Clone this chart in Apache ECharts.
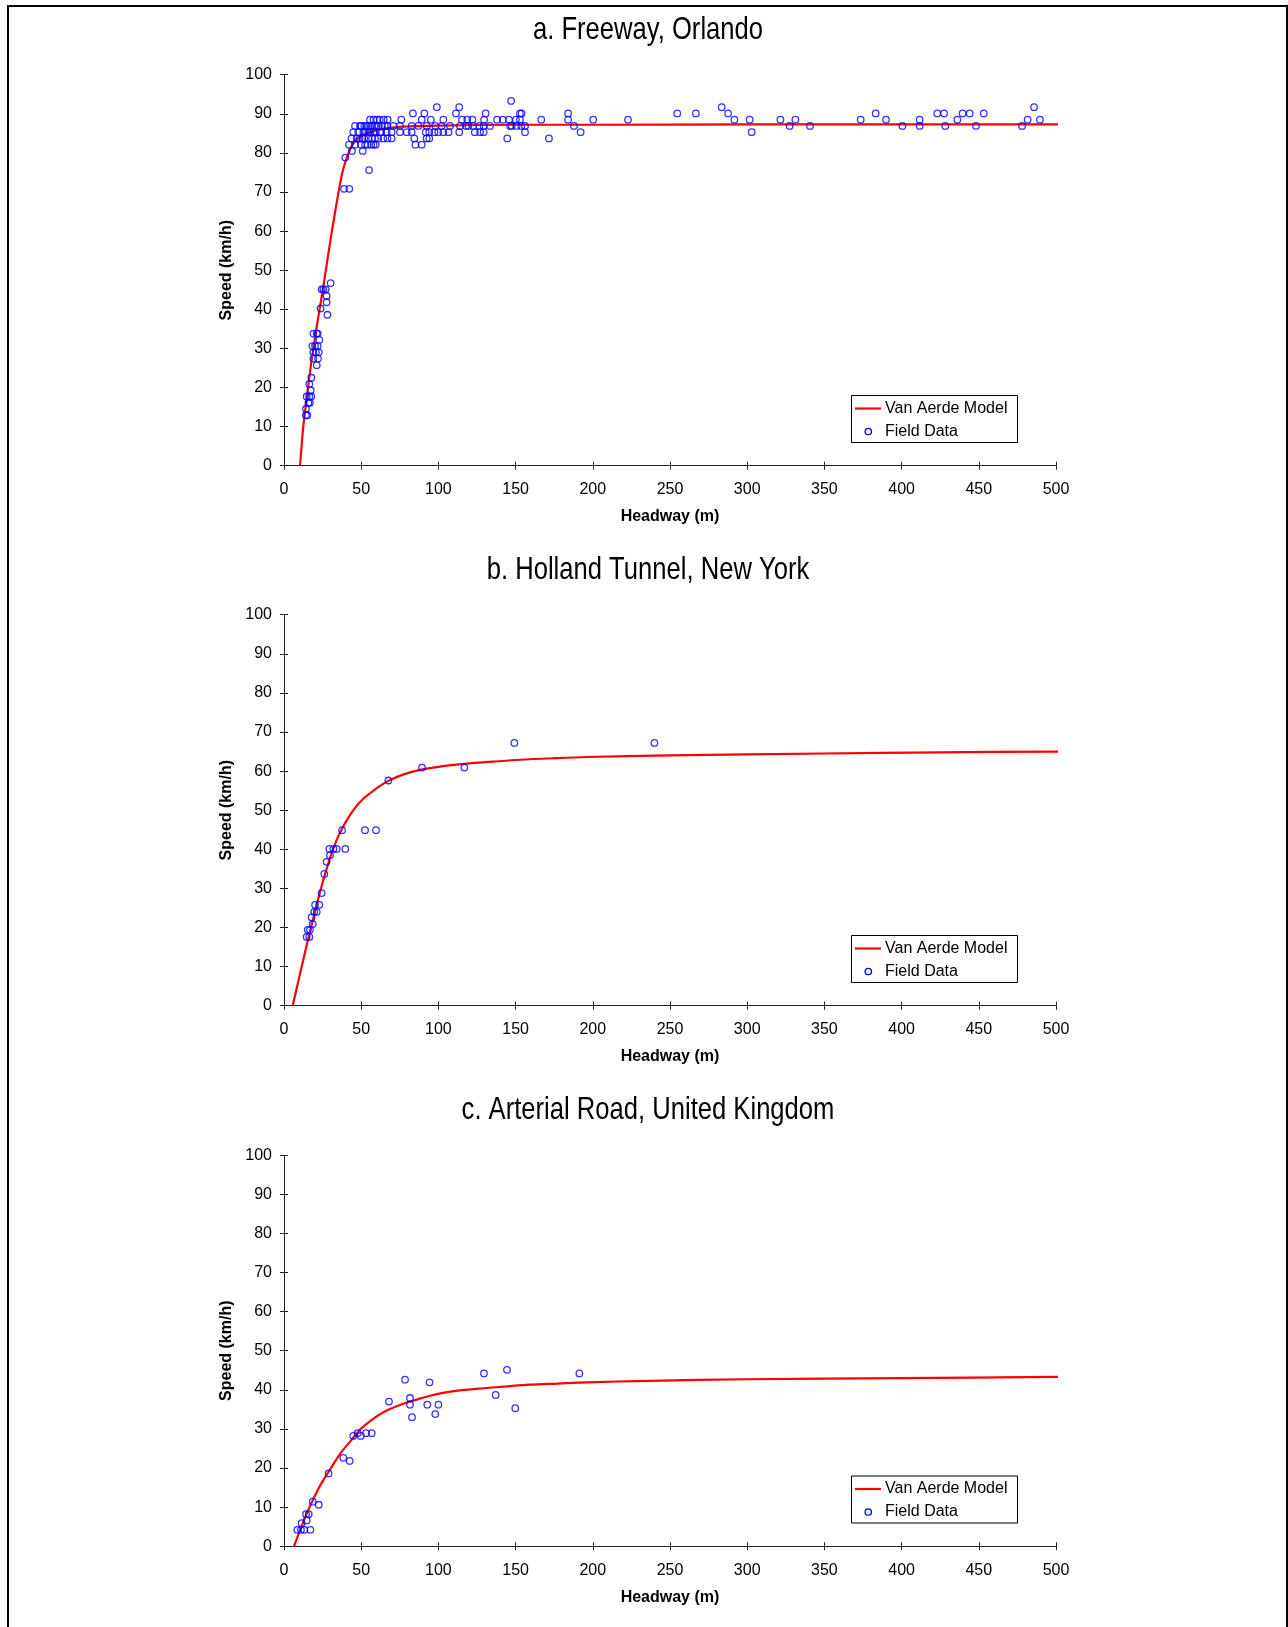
<!DOCTYPE html>
<html><head><meta charset="utf-8">
<script src="https://cdn.jsdelivr.net/npm/echarts@6/dist/echarts.min.js"></script>
<style>html,body{margin:0;padding:0;background:#fff}#c{width:1288px;height:1627px}</style>
</head><body><div id="c"></div>
<script>
// ---------- DATA ----------
const panelTitles = ['a. Freeway, Orlando', 'b. Holland Tunnel, New York', 'c. Arterial Road, United Kingdom'];
const xAxisName = 'Headway (m)';
const yAxisName = 'Speed (km/h)';
const modelName = 'Van Aerde Model';
const fieldName = 'Field Data';
const xTicks = [0, 50, 100, 150, 200, 250, 300, 350, 400, 450, 500];
const yTicks = [0, 10, 20, 30, 40, 50, 60, 70, 80, 90, 100];

// Panel a: Freeway, Orlando  [headway m, speed km/h]
const modelA = [[10.4,0],[12.5,10.0],[15.1,18.5],[17.9,27.0],[21.2,35.6],[24.8,44.1],[28.1,52.6],[31.5,61.1],[35.2,69.7],[37.5,74.5],[40.2,78.2],[42.5,80.6],[44.9,82.4],[48.5,83.9],[53.5,85.0],[60,85.8],[65,86.2],[77,86.7],[100,87.0],[150,87.2],[200,87.2],[300,87.3],[400,87.3],[503,87.3]];
const fieldA = [
[14.2,12.9],[15.1,12.9],[14.2,14.5],[15.8,16.1],[16.8,16.1],[14.7,17.7],[16.4,17.7],[17.7,17.7],[17.3,19.3],[16.4,20.9],[17.7,22.5],
[21.2,25.7],[19.0,27.4],[22.0,27.4],[19.0,29.0],[20.7,29.0],[22.5,29.0],[18.4,30.6],[20.1,30.6],[21.8,30.6],[22.9,32.2],[19.0,33.8],[21.2,33.8],[21.8,33.8],
[28.1,38.6],[23.7,40.2],[27.6,41.8],[27.6,43.4],[24.4,45.1],[25.5,45.1],[27.0,45.1],[30.2,46.7],
[38.9,70.8],[42.3,70.8],[55.1,75.6],[39.7,78.8],[44.0,80.5],[51.0,80.5],
[42.1,82.1],[46.0,82.1],[49.9,82.1],[52.5,82.1],[54.2,82.1],[56.5,82.1],[58.0,82.1],[59.4,82.1],[85.1,82.1],[89.2,82.1],
[43.8,83.7],[47.1,83.7],[49.0,83.7],[50.7,83.7],[52.0,83.7],[54.6,83.7],[57.0,83.7],[58.9,83.7],[61.0,83.7],[64.3,83.7],[67.0,83.7],[69.7,83.7],[84.4,83.7],[92.4,83.7],[94.1,83.7],[144.6,83.7],[171.6,83.7],
[44.9,85.3],[48.1,85.3],[51.4,85.3],[53.0,85.3],[54.6,85.3],[56.0,85.3],[57.9,85.3],[59.5,85.3],[62.2,85.3],[63.0,85.3],[66.5,85.3],[69.7,85.3],[75.1,85.3],[79.5,85.3],[82.7,85.3],[91.8,85.3],[94.1,85.3],[97.4,85.3],[99.9,85.3],[103.2,85.3],[106.6,85.3],[113.5,85.3],[123.6,85.3],[127.0,85.3],[129.3,85.3],[156.1,85.3],[192.1,85.3],[302.9,85.3],
[46.0,86.9],[49.2,86.9],[50.0,86.9],[52.0,86.9],[53.5,86.9],[55.0,86.9],[56.8,86.9],[58.5,86.9],[60.0,86.9],[61.1,86.9],[63.5,86.9],[65.4,86.9],[67.0,86.9],[70.8,86.9],[75.1,86.9],[82.7,86.9],[87.0,86.9],[92.4,86.9],[98.0,86.9],[102.1,86.9],[107.5,86.9],[114.0,86.9],[117.9,86.9],[119.4,86.9],[122.6,86.9],[126.5,86.9],[129.3,86.9],[133.4,86.9],[146.4,86.9],[147.5,86.9],[150.7,86.9],[153.7,86.9],[156.1,86.9],
[187.8,86.9],[327.5,86.9],[340.7,86.9],[400.5,86.9],[411.7,86.9],[428.3,86.9],[448.2,86.9],[478.0,86.9],
[55.7,88.5],[58.0,88.5],[60.2,88.5],[62.0,88.5],[64.6,88.5],[67.1,88.5],[76.0,88.5],[89.2,88.5],[95.1,88.5],[103.2,88.5],[115.3,88.5],[118.7,88.5],[122.0,88.5],[129.6,88.5],[138.0,88.5],[141.7,88.5],[145.7,88.5],[150.2,88.5],[152.8,88.5],[166.6,88.5],[184.0,88.5],[200.3,88.5],[222.8,88.5],[291.7,88.5],[301.6,88.5],[321.5,88.5],[331.2,88.5],[373.5,88.5],[389.9,88.5],[411.7,88.5],[436.1,88.5],[481.6,88.5],[489.6,88.5],
[83.5,90.1],[90.9,90.1],[111.4,90.1],[130.6,90.1],[152.8,90.1],[153.9,90.1],[184.0,90.1],[254.7,90.1],[266.8,90.1],[287.6,90.1],[383.2,90.1],[423.1,90.1],[427.5,90.1],[439.5,90.1],[444.1,90.1],[453.2,90.1],
[99.0,91.7],[113.5,91.7],[283.5,91.7],[485.8,91.7],
[147.1,93.3]
];

// Panel b: Holland Tunnel, New York
const modelB = [[5.6,0],[10,7.5],[15,16.0],[20,24.0],[25,31.5],[30,38.0],[34,42.3],[38,45.6],[42,48.3],[46,50.6],[51,52.8],[56,54.4],[61,55.9],[67.6,57.5],[77,59.1],[88,60.3],[100,61.1],[118.3,61.9],[135,62.4],[152.8,62.9],[175,63.3],[196,63.6],[250,64.0],[350,64.5],[425,64.8],[503,65.0]];
const fieldB = [[14.7,17.6],[16.4,17.6],[15.4,19.4],[16.8,19.4],[18.6,20.9],[17.9,22.6],[19.6,24.0],[20.1,25.8],[21.2,24.0],[22.9,25.8],[24.4,28.8],[26.1,33.7],[27.6,36.8],[29.4,40.1],[29.8,38.5],[32.0,40.1],[34.1,40.1],[37.6,44.9],[39.7,40.1],[52.5,44.9],[59.6,44.9],[67.6,57.6],[89.4,60.9],[116.8,60.9],[149.2,67.2],[239.9,67.2]];

// Panel c: Arterial Road, United Kingdom
const modelC = [[6.5,0],[11.5,5.2],[16.8,10.2],[23.5,15.6],[30.9,20.3],[37,24.0],[43.8,27.2],[50.3,30.2],[60,33.2],[66,34.6],[73,35.8],[80,36.8],[86,37.5],[94,38.4],[103,39.2],[115,39.9],[129,40.4],[145,40.9],[159,41.3],[177,41.6],[196,41.9],[237,42.3],[300,42.7],[400,43.0],[503,43.3]];
const fieldC = [[8.6,4.2],[11.0,4.2],[13.2,4.2],[17.1,4.2],[11.4,5.9],[14.7,6.6],[14.3,8.2],[16.0,8.2],[18.6,11.4],[22.5,10.6],[28.9,18.6],[38.4,22.6],[42.5,21.8],[44.9,28.2],[47.7,28.9],[49.7,28.2],[53.1,28.9],[56.8,28.9],[68.0,37.0],[78.4,42.6],[81.6,37.9],[81.6,36.2],[82.9,33.0],[92.8,36.2],[94.3,41.9],[98.0,33.8],[100.0,36.2],[129.5,44.2],[137.1,38.7],[144.4,45.1],[149.8,35.3],[191.3,44.2]];

const modelSets = [modelA, modelB, modelC];
const fieldSets = [fieldA, fieldB, fieldC];

// ---------- LAYOUT / STYLE ----------
const gridLeft = 284, gridW = 772, gridH = 391;
const gridTops = [74.7, 614.7, 1155.2];
const baseFont = "'Liberation Sans',Arial,sans-serif";
const axisCol = '#222';

const grids = [], xAxes = [], yAxes = [], series = [], graphics = [];

panelTitles.forEach((t, i) => {
  const top = gridTops[i];
  grids.push({left: gridLeft, top: top, width: gridW, height: gridH});
  graphics.push({
    type: 'text', x: 648, y: top - 45, scaleX: 0.8, z: 12,
    style: {text: t, font: "32px 'Liberation Sans',Arial,sans-serif", fill: '#000', align: 'center', verticalAlign: 'middle', textAlign: 'center', textVerticalAlign: 'middle'}
  });
  const xMin = xTicks[0], xMax = xTicks[xTicks.length - 1], xInt = xTicks[1] - xTicks[0];
  const yMin = yTicks[0], yMax = yTicks[yTicks.length - 1], yInt = yTicks[1] - yTicks[0];
  xAxes.push({
    type: 'value', gridIndex: i, position: 'bottom', min: xMin, max: xMax, interval: xInt,
    name: xAxisName, nameLocation: 'middle', nameGap: 43,
    nameTextStyle: {fontFamily: baseFont, fontSize: 16, fontWeight: 'bold', color: '#000'},
    axisLine: {show: true, onZero: false, lineStyle: {color: axisCol, width: 1}},
    axisTick: {show: true, length: 4, lineStyle: {color: axisCol, width: 1}},
    axisLabel: {fontFamily: baseFont, fontSize: 16, color: '#000', margin: 16},
    splitLine: {show: false}
  });
  xAxes.push({
    type: 'value', gridIndex: i, position: 'bottom', min: xMin, max: xMax, interval: xInt,
    axisLine: {show: false, onZero: false},
    axisTick: {show: true, inside: true, length: 4, lineStyle: {color: axisCol, width: 1}},
    axisLabel: {show: false}, splitLine: {show: false}
  });
  yAxes.push({
    type: 'value', gridIndex: i, position: 'left', min: yMin, max: yMax, interval: yInt,
    name: yAxisName, nameLocation: 'middle', nameGap: 49,
    nameTextStyle: {fontFamily: baseFont, fontSize: 16, fontWeight: 'bold', color: '#000'},
    axisLine: {show: true, onZero: false, lineStyle: {color: axisCol, width: 1}},
    axisTick: {show: true, length: 4, lineStyle: {color: axisCol, width: 1}},
    axisLabel: {fontFamily: baseFont, fontSize: 16, color: '#000', margin: 12},
    splitLine: {show: false}
  });
  yAxes.push({
    type: 'value', gridIndex: i, position: 'left', min: yMin, max: yMax, interval: yInt,
    axisLine: {show: false, onZero: false},
    axisTick: {show: true, inside: true, length: 4, lineStyle: {color: axisCol, width: 1}},
    axisLabel: {show: false}, splitLine: {show: false}
  });
  series.push({
    type: 'line', name: modelName, xAxisIndex: 2 * i, yAxisIndex: 2 * i,
    data: modelSets[i], showSymbol: false, symbol: 'none', smooth: 0.3,
    clip: false, lineStyle: {color: '#ff0000', width: 2.2}, z: 2, silent: true
  });
  series.push({
    type: 'scatter', name: fieldName, xAxisIndex: 2 * i, yAxisIndex: 2 * i,
    data: fieldSets[i], symbol: 'circle', symbolSize: 6.5,
    itemStyle: {color: 'rgba(0,0,0,0)', borderColor: '#0000ff', borderWidth: 1.3}, z: 3, silent: true
  });
  const ly = top + 320.3;
  graphics.push(
    {type: 'rect', shape: {x: 851.5, y: ly + 0.5, width: 166, height: 47}, style: {fill: '#fff', stroke: '#000', lineWidth: 1}, z: 10},
    {type: 'line', shape: {x1: 855, y1: ly + 13.5, x2: 881, y2: ly + 13.5}, style: {stroke: '#ff0000', lineWidth: 2.2}, z: 11},
    {type: 'text', x: 885, y: ly + 13.5, style: {text: modelName, font: "16px 'Liberation Sans',Arial,sans-serif", fill: '#000', textVerticalAlign: 'middle', verticalAlign: 'middle'}, z: 11},
    {type: 'circle', shape: {cx: 868.3, cy: ly + 36.5, r: 3.2}, style: {fill: 'none', stroke: '#0000ff', lineWidth: 1.3}, z: 11},
    {type: 'text', x: 885, y: ly + 36.5, style: {text: fieldName, font: "16px 'Liberation Sans',Arial,sans-serif", fill: '#000', textVerticalAlign: 'middle', verticalAlign: 'middle'}, z: 11}
  );
});

// outer frame
graphics.push({type: 'rect', shape: {x: 8, y: 6, width: 1279, height: 1700}, style: {fill: 'none', stroke: '#000', lineWidth: 2}, z: 0});

const chart = echarts.init(document.getElementById('c'), null, {renderer: 'canvas'});
chart.setOption({
  animation: false,
  backgroundColor: '#fff',
  grid: grids,
  xAxis: xAxes,
  yAxis: yAxes,
  series: series,
  graphic: graphics
});
</script>
</body></html>
